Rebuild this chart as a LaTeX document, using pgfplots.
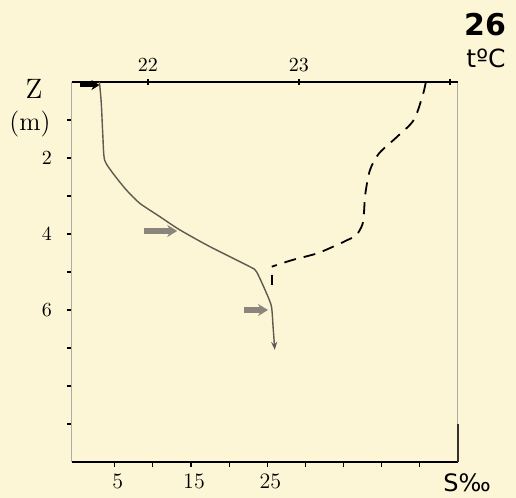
\documentclass[border=0pt]{standalone}
\usepackage{fontspec}
\newfontfamily\dejavu{DejaVu Sans}
\usepackage{pgfplots}
\usepackage{pgfplotstable}
\pgfplotsset{compat=1.18}
\usetikzlibrary{arrows.meta}

\definecolor{paper}{HTML}{FDF6D6}
\definecolor{pencil}{HTML}{5E5A50}
\definecolor{smudge}{HTML}{8A867C}

% salinity profile (S per mille against depth z in m)
\pgfplotstableread{
z     S
0.00  3.00
0.56  3.24
1.44  3.45
2.05  3.67
2.40  4.76
2.84  6.52
3.19  8.27
3.54  10.89
3.89  13.52
4.33  17.45
4.86  22.70
4.99  23.58
5.56  24.90
5.91  25.55
6.44  25.76
7.05  25.98
}\salinity

% temperature profile (t in deg C against depth z in m)
\pgfplotstableread{
z     T
0.00  23.84
0.34  23.82
1.00  23.76
1.44  23.65
1.88  23.53
2.32  23.47
2.93  23.44
3.45  23.43
3.75  23.42
4.03  23.38
4.16  23.32
4.29  23.25
4.51  23.12
4.68  22.96
4.86  22.82
}\temperature

\pgfplotstableread{
z     T
4.86  22.82
5.39  22.82
}\temptail

% current arrows
\pgfplotstableread{
x     y     u    v
8.9   3.92  4.3  0
22.0  6.00  3.1  0
}\currents

\begin{document}
\begin{tikzpicture}[x=1pt,y=1pt]
\path[use as bounding box, fill=paper] (0,0) rectangle (258,249);

\begin{axis}[
  at={(36pt,18pt)}, anchor=south west, scale only axis,
  width=193pt, height=190pt,
  xmin=-0.6, xmax=50, ymin=0, ymax=10, y dir=reverse,
  axis line style={draw=gray!65, line width=0.5pt},
  xtick={5,10,...,45}, xticklabels={5,,15,,25,,,,},
  ytick={1,...,9}, yticklabels={,2,,4,,6,,,},
  xtick pos=left, ytick pos=left,
  tick align=outside, major tick length=2.5pt,
  tick style={black, line width=0.6pt},
  xticklabel style={font=\fontsize{11}{13}\selectfont, xshift=1.5pt},
  yticklabel style={font=\fontsize{10}{12}\selectfont, xshift=-4pt},
  clip=false,
]
\draw[black, line width=0.9pt] (axis description cs:0,0) -- (axis description cs:1,0);
\draw[black, line width=1.1pt] (axis description cs:0,1) -- (axis description cs:1,1);
\draw[black!80, line width=0.6pt] (axis description cs:1,0) -- (axis description cs:1,0.1);

\addplot[pencil, line width=0.7pt, smooth, tension=0.4,
  -{Stealth[length=4pt,width=3pt]}] table[x=S,y=z] {\salinity};

\addplot[black, line width=2pt, -{Stealth[length=4pt,width=5pt]},
  quiver={u=\thisrow{u},v=\thisrow{v}}] table[x=x,y=y] {
x    y     u    v
0.4  0.08  2.6  0
};
\addplot[smudge, line width=2.6pt, -{Stealth[length=5pt,width=6pt]},
  quiver={u=\thisrow{u},v=\thisrow{v}}] table[x=x,y=y] {\currents};
\end{axis}

\begin{axis}[
  at={(36pt,18pt)}, anchor=south west, scale only axis,
  width=193pt, height=190pt,
  xmin=21.497, xmax=24.053, ymin=0, ymax=10, y dir=reverse,
  axis line style={draw=none},
  xtick={22,23,24}, xticklabels={22,23,},
  xtick pos=right, xticklabel pos=right, ytick=\empty,
  tick align=center, major tick length=3pt,
  tick style={black, line width=0.6pt},
  xticklabel style={font=\fontsize{10}{12}\selectfont},
  clip=false,
]
\addplot[black, line width=0.9pt, smooth, tension=0.5,
  dash pattern=on 6pt off 4pt] table[x=T,y=z] {\temperature};
\addplot[black, line width=0.9pt,
  dash pattern=on 0pt off 4pt on 5pt off 3pt] table[x=T,y=z] {\temptail};
\end{axis}

\node at (17,204.75) {\fontsize{14}{16}\selectfont Z};
\node at (15,186.75) {\fontsize{13}{15}\selectfont (m)};
\node at (242.5,236.5) {\dejavu\bfseries\fontsize{15}{17}\selectfont 26};
\node at (243,220) {\dejavu\fontsize{12.5}{14}\selectfont tºC};
\node[inner sep=0pt, anchor=base] at (233.5,3.2) {\dejavu\fontsize{12}{14}\selectfont S‰};
\end{tikzpicture}
\end{document}
